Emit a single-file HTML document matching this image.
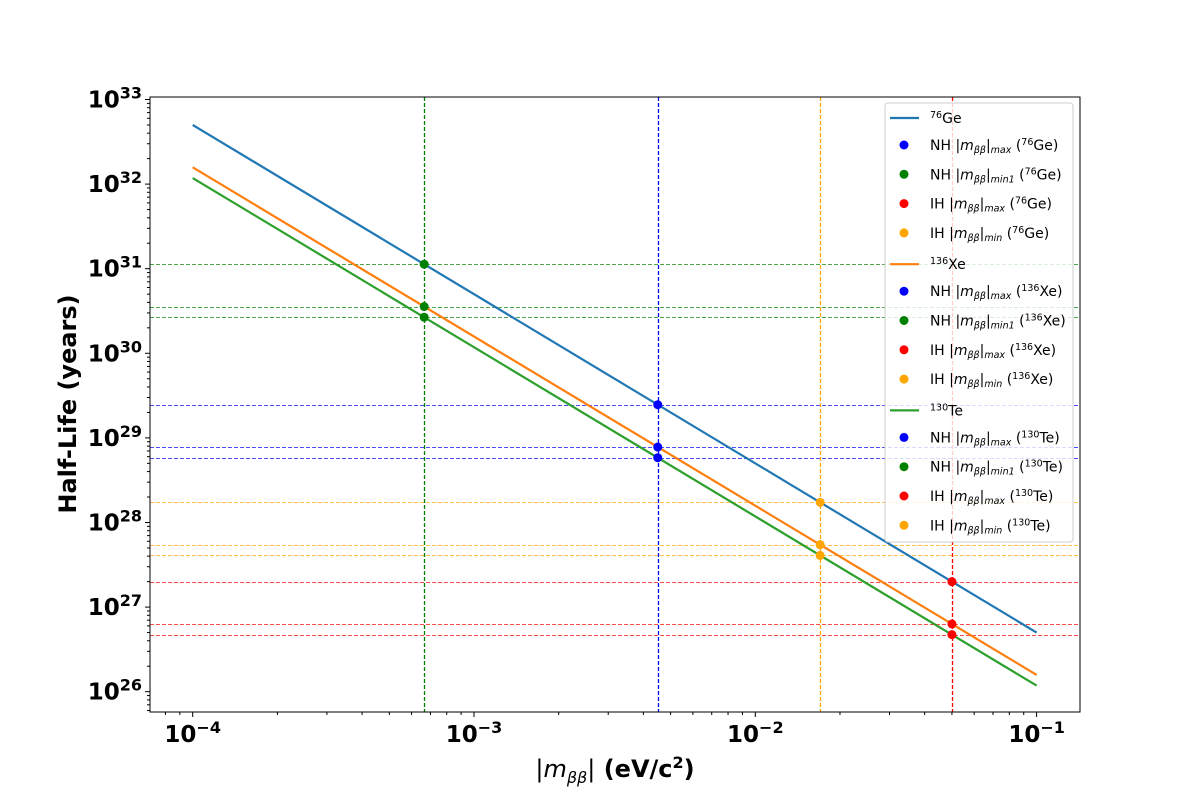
<!DOCTYPE html>
<html><head><meta charset="utf-8"><style>
body{margin:0;background:#fff}
svg{display:block;font-family:"DejaVu Sans","Liberation Sans",sans-serif}
</style></head><body>
<svg id="chart" width="1200" height="800"></svg>
<script>
// data
const isotopes = ["76Ge","136Xe","130Te"];
const isoLabels = ["76","136","130"];
const isoNames = ["Ge","Xe","Te"];
const isoColors = ["#1f77b4","#ff7f0e","#2ca02c"];
const halfLifeAt1e4 = [5.0e32, 1.58e32, 1.18e32]; // half-life at m=1e-4 eV
const massRange = [1e-4, 0.1];
const pointMasses = [4.5e-3, 6.65e-4, 0.050, 0.0170];
const pointColors = ["blue","green","red","orange"];
const hlineColors = ["#4d4dff","#4da64d","#ff4d4d","#ffc04d"];
const xTickVals = [-4,-3,-2,-1];
const yTickVals = [26,27,28,29,30,31,32,33];

const NS="http://www.w3.org/2000/svg";
const svg=document.getElementById('chart');
const L=150,R=1080,T=97,B=712;
const x0=192.7,xd=281.3, y33=99.5, yd=84.6;
function xs(m){return x0+(Math.log10(m)+4)*xd;}
function ys(v){return y33+(33-Math.log10(v))*yd;}
function el(tag,attrs,parent){const e=document.createElementNS(NS,tag);for(const k in attrs)e.setAttribute(k,attrs[k]);(parent||svg).appendChild(e);return e;}
function hl(m,k){return k*(1e-4/m)**2;}

const clip=el('clipPath',{id:'pc'});el('rect',{x:L,y:T,width:R-L,height:B-T},clip);
const plot=el('g',{'clip-path':'url(#pc)'});



// horizontal dashed lines
isotopes.forEach((iso,i)=>{
  pointMasses.forEach((m,j)=>{
    const y=Math.round(ys(hl(m,halfLifeAt1e4[i])))+0.5;
    const l=el('line',{x1:L,x2:R,y1:y,y2:y,stroke:hlineColors[j],'stroke-width':1,'stroke-dasharray':'4,2'},plot);
    
    
  });
});
// vertical dashed lines
pointMasses.forEach((m,j)=>{
  const x=Math.round(xs(m))+0.5;
  const l=el('line',{x1:x,x2:x,y1:T,y2:B,stroke:pointColors[j],'stroke-width':1.3,'stroke-dasharray':'4,2'},plot);
  
  
});
// series lines
isotopes.forEach((iso,i)=>{
  const l=el('line',{x1:xs(massRange[0]),y1:ys(hl(massRange[0],halfLifeAt1e4[i])),x2:xs(massRange[1]),y2:ys(hl(massRange[1],halfLifeAt1e4[i])),stroke:isoColors[i],'stroke-width':2.2},plot);
  
  
});
// points
isotopes.forEach((iso,i)=>{
  pointMasses.forEach((m,j)=>{
    const c=el('circle',{cx:xs(m),cy:ys(hl(m,halfLifeAt1e4[i])),r:4.5,fill:pointColors[j]},plot);
    
    
  });
});
// frame
const fr=el('rect',{x:L,y:T,width:R-L,height:B-T,fill:'none',stroke:'#000','stroke-width':1});



// x ticks
xTickVals.forEach(p=>{
  const x=x0+(p+4)*xd;
  el('line',{x1:x,x2:x,y1:B,y2:B+5,stroke:'#000'});
  const t=el('text',{x:x,y:B+30,'text-anchor':'middle','font-size':23,'font-weight':'bold'});
  t.innerHTML='10<tspan dy="-9" font-size="16">\u2212'+(-p)+'</tspan>';
  
  
  for(let k=2;k<10;k++){const xm=x0+(p+4+Math.log10(k))*xd;if(xm>L&&xm<R)el('line',{x1:xm,x2:xm,y1:B,y2:B+3,stroke:'#000'});}
});
for(let k=7;k<10;k++){const xm=x0+(-5+4+Math.log10(k))*xd;if(xm>L)el('line',{x1:xm,x2:xm,y1:B,y2:B+3,stroke:'#000'});}
// y ticks
yTickVals.forEach(p=>{
  const y=y33+(33-p)*yd;
  el('line',{x1:L-5,x2:L,y1:y,y2:y,stroke:'#000'});
  const t=el('text',{x:L-8,y:y+8,'text-anchor':'end','font-size':23,'font-weight':'bold'});
  t.innerHTML='10<tspan dy="-9" font-size="16">'+p+'</tspan>';
  
  
  for(let k=2;k<10;k++){const ym=y33+(33-p-Math.log10(k))*yd;if(ym>T&&ym<B)el('line',{x1:L-3,x2:L,y1:ym,y2:ym,stroke:'#000'});}
});
for(let k=6;k<10;k++){const ym=y33+(33-25-Math.log10(k))*yd;if(ym<B)el('line',{x1:L-3,x2:L,y1:ym,y2:ym,stroke:'#000'});}

// axis titles
const xt=el('text',{x:615,y:777,'text-anchor':'middle','font-size':24,'font-weight':'bold'});
xt.innerHTML='<tspan font-style="italic" font-weight="normal">|m<tspan font-size="16" dy="6">ββ</tspan><tspan dy="-6">|</tspan></tspan> (eV/c<tspan font-size="16" dy="-9">2</tspan><tspan dy="9">)</tspan>';


const yt=el('text',{x:76,y:404,'text-anchor':'middle','font-size':24,'font-weight':'bold',transform:'rotate(-90 76 404)'});
yt.textContent='Half-Life (years)';



// legend
const lg=el('g',{});


el('rect',{x:885,y:103,width:188,height:439,rx:3,fill:'#fff','fill-opacity':0.8,stroke:'#ccc'},lg);
const subs=['max','min1','max','min'];
let yy=118;
isotopes.forEach((iso,i)=>{
  el('line',{x1:890,x2:919,y1:yy,y2:yy,stroke:isoColors[i],'stroke-width':2.2},lg);
  const t=el('text',{x:930,y:yy+5,'font-size':14},lg);
  t.innerHTML='<tspan font-size="9.5" dy="-5">'+isoLabels[i]+'</tspan><tspan dy="5">'+isoNames[i]+'</tspan>';
  
  
  yy+=29;
  pointMasses.forEach((m,j)=>{
    el('circle',{cx:904,cy:yy-2,r:4.5,fill:pointColors[j]},lg);
    const tt=el('text',{x:930,y:yy+3,'font-size':14},lg);
    tt.innerHTML=(j<2?'NH':'IH')+' |<tspan font-style="italic">m</tspan><tspan font-style="italic" font-size="9.5" dy="3">ββ</tspan><tspan dy="-3">|</tspan><tspan font-style="italic" font-size="9.5" dy="3">'+subs[j]+'</tspan><tspan dy="-3"> (</tspan><tspan font-size="9.5" dy="-5">'+isoLabels[i]+'</tspan><tspan dy="5">'+isoNames[i]+')</tspan>';
    
    
    yy+=29.3;
  });
});
</script>
</body></html>
